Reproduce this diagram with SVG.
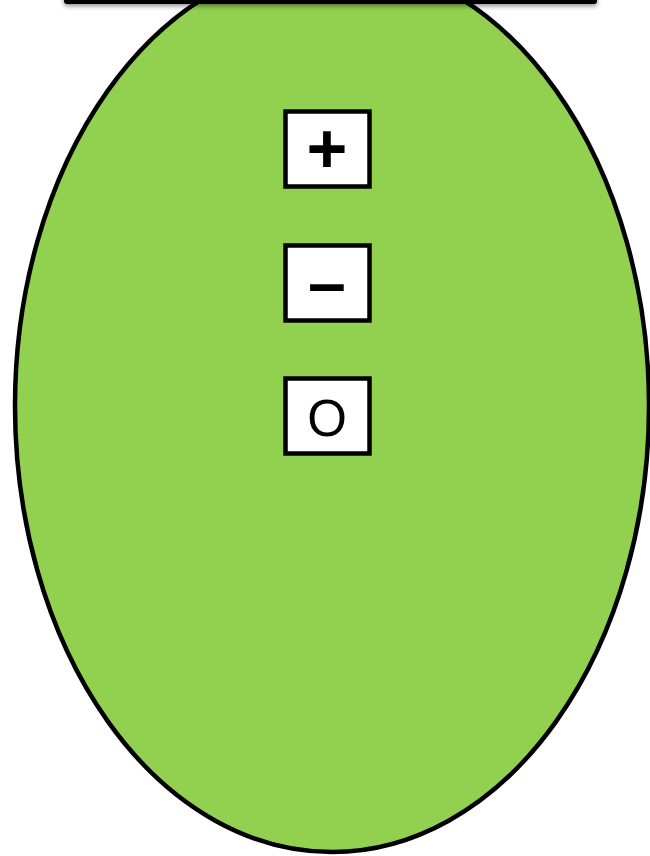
<svg xmlns="http://www.w3.org/2000/svg" width="650" height="856" viewBox="0 0 650 856">
<defs>
<filter id="sh" x="-10%" y="-100%" width="120%" height="400%">
<feDropShadow dx="0" dy="2" stdDeviation="2.5" flood-color="#000" flood-opacity="0.45"/>
</filter>
<style>
.box{fill:#fff;stroke:#000;stroke-width:4.5}
.lbl{font-family:"Liberation Sans",Arial,sans-serif;fill:#000;text-anchor:middle}
</style>
</defs>
<rect width="650" height="856" fill="#fff"/>
<g id="oval">
<ellipse cx="332" cy="406" rx="317" ry="446" fill="#92D050" stroke="#000" stroke-width="4.5"/>
</g>
<g id="bar">
<rect x="64" y="-20" width="533" height="24" rx="3" fill="#000" filter="url(#sh)"/>
</g>
<g id="plus">
<rect class="box" x="285.5" y="111.5" width="84" height="75"/>
<text class="lbl" x="327" y="173" font-size="70" font-weight="bold">+</text>
</g>
<g id="minus">
<rect class="box" x="285.5" y="245.5" width="84" height="75"/>
<text class="lbl" x="327" y="306" font-size="68" font-weight="bold">–</text>
</g>
<g id="zero">
<rect class="box" x="285.5" y="378.5" width="84" height="75"/>
<text class="lbl" x="327" y="436" font-size="51">O</text>
</g>
<g id="connectors"/>
</svg>
